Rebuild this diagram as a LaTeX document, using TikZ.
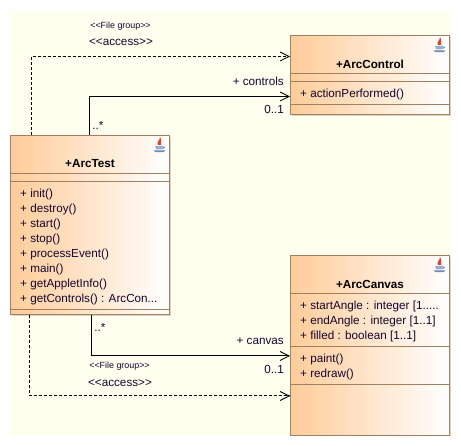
\documentclass[tikz,border=0pt]{standalone}
\usepackage{fontspec}
\setmainfont{Liberation Sans}
\usetikzlibrary{arrows.meta,calc}
\definecolor{bgc}{HTML}{FFFFF0}
\definecolor{edgec}{HTML}{A08060}
\definecolor{orangec}{HTML}{FFCC99}
\definecolor{txtc}{HTML}{14062E}
\definecolor{shadowc}{HTML}{DDD5C0}
\definecolor{flamec}{HTML}{E04030}
\definecolor{cupc}{HTML}{7088B8}
\tikzset{
  umlbox/.style={draw=edgec,line width=1pt,left color=orangec,right color=white,minimum width=159pt,inner sep=0pt,anchor=north west},
  title/.style={font=\fontsize{11.7}{13}\selectfont\bfseries,text=black,inner sep=0pt},
  member/.style={font=\fontsize{11.7}{15}\selectfont,text=txtc,inner sep=0pt,anchor=west},
  lab/.style={font=\fontsize{11.7}{13}\selectfont,text=txtc,inner sep=0pt},
  small/.style={font=\fontsize{8.9}{10}\selectfont,text=txtc,inner sep=0pt},
  conn/.style={line width=1pt,-{Straight Barb[length=9pt,width=9pt,line width=.8pt]}},
  dconn/.style={conn,dash pattern=on 3pt off 2pt},
  shad/.style={fill=shadowc,draw=none},
  divider/.style={draw=edgec,line width=1pt}
}
\newcommand{\javaicon}[1]{%
  \begin{scope}[shift={(#1)}]
    \fill[flamec] (0.5,-15) .. controls (3,-11.5) and (0.5,-10) .. (1.5,-7) -- (-1.5,-7) .. controls (-3.5,-10) and (0.5,-11) .. (0.5,-15) -- cycle;
    \fill[cupc!70!white] (-4.5,-6) -- (3.5,-6) -- (2.5,-2.5) -- (-3.5,-2.5) -- cycle;
    \draw[cupc,line width=.7pt] (3.2,-5) -- (5.2,-4.8) -- (3,-3.2);
    \fill[cupc] (-6,-1.6) -- (6,-1.6) -- (4,0.2) -- (-4,0.2) -- cycle;
  \end{scope}}
\begin{document}
\begin{tikzpicture}[x=1pt,y=-1pt]
\useasboundingbox (0,0) rectangle (461,446);
\fill[white] (0,0) rectangle (461,446);
\fill[bgc] (10,10) rectangle (451,435);
% shadows
\fill[shad] (12,137) rectangle (171,316.5);
\fill[shad] (292,37) rectangle (451,116);
\fill[shad] (292,257) rectangle (451,436);
% boxes
\node[umlbox,minimum height=179.5pt] (t) at (10,135) {};
\node[umlbox,minimum height=79pt] (c) at (290,35) {};
\node[umlbox,minimum height=180pt] (v) at (290,255) {};
% dividers
\draw[divider] ([yshift=-39pt]t.north west) -- ([yshift=-39pt]t.north east);
\draw[divider] ([yshift=-47pt]t.north west) -- ([yshift=-47pt]t.north east);
\draw[divider] ([yshift=-175pt]t.north west) -- ([yshift=-175pt]t.north east);
\draw[divider] ([yshift=-39pt]c.north west) -- ([yshift=-39pt]c.north east);
\draw[divider] ([yshift=-47pt]c.north west) -- ([yshift=-47pt]c.north east);
\draw[divider] ([yshift=-70pt]c.north west) -- ([yshift=-70pt]c.north east);
\draw[divider] ([yshift=-39pt]v.north west) -- ([yshift=-39pt]v.north east);
\draw[divider] ([yshift=-92pt]v.north west) -- ([yshift=-92pt]v.north east);
\draw[divider] ([yshift=-130pt]v.north west) -- ([yshift=-130pt]v.north east);
% titles
\node[title] (tt) at (90,164) {+ArcTest};
\node[title] (ct) at (370,64) {+ArcControl};
\node[title] (vt) at (370,284) {+ArcCanvas};
% members
\node[member] (t1) at (20,194.5) {+ init()};
\node[member] (t2) at (20,209.5) {+ destroy()};
\node[member] (t3) at (20,224.5) {+ start()};
\node[member] (t4) at (20,239.5) {+ stop()};
\node[member] (t5) at (20,254.5) {+ processEvent()};
\node[member] (t6) at (20,269.5) {+ main()};
\node[member] (t7) at (20,284.5) {+ getAppletInfo()};
\node[member] (t8) at (20,299.5) {+ getControls() : ArcCon...};
\node[member] (c1) at (300,94.5) {+ actionPerformed()};
\node[member] (v1) at (300,306.5) {+ startAngle : integer [1.....};
\node[member] (v2) at (300,321.5) {+ endAngle : integer [1..1]};
\node[member] (v3) at (300,336.5) {+ filled : boolean [1..1]};
\node[member] (v4) at (300,359.5) {+ paint()};
\node[member] (v5) at (300,374.5) {+ redraw()};
% icons
\javaicon{159.5,152}
\javaicon{439.5,52}
\javaicon{439.5,272}
% connectors
\draw[dconn] ([xshift=21pt]t.north west) |- ([yshift=-21.5pt]c.north west);
\draw[conn] ([xshift=79pt]t.north west) |- ([yshift=-61.5pt]c.north west);
\draw[conn] ([xshift=81.5pt]t.south west) |- ([yshift=-101pt]v.north west);
\draw[dconn] ([xshift=19pt]t.south west) |- ([yshift=-141pt]v.north west);
% labels
\node[small] (s1) at (120.5,26) {<{}<File group>{}>};
\node[lab] (a1) at (121,42.5) {<{}<access>{}>};
\node[lab,anchor=east] (l1) at (284,81) {+ controls};
\node[lab,anchor=east] (l2) at (284,109) {0..1};
\node[lab] (l3) at (98,125) {..*};
\node[lab] (l4) at (100,327) {..*};
\node[lab,anchor=east] (l5) at (284,341) {+ canvas};
\node[lab,anchor=east] (l6) at (284,369) {0..1};
\node[small] (s2) at (119.5,366) {<{}<File group>{}>};
\node[lab] (a2) at (120,383) {<{}<access>{}>};
\end{tikzpicture}
\end{document}
